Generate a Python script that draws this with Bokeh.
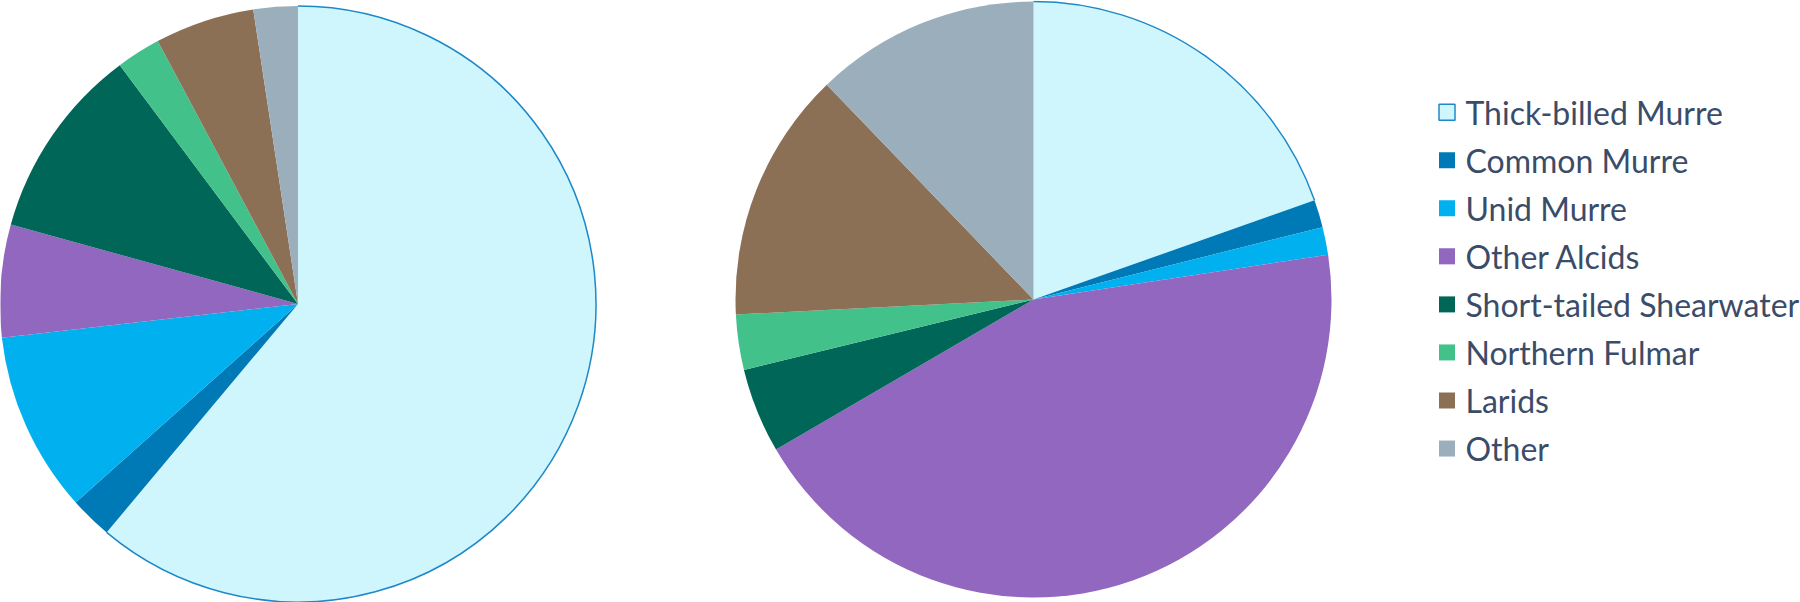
import numpy as np
from bokeh.plotting import figure
from bokeh.models import Range1d, ColumnDataSource
from bokeh.core.properties import value
from bokeh.embed import file_html
from bokeh.resources import INLINE

# ---- data ----
categories = ["Thick-billed Murre", "Common Murre", "Unid Murre", "Other Alcids",
              "Short-tailed Shearwater", "Northern Fulmar", "Larids", "Other"]
left_values = [61.1, 2.3, 9.8, 6.1, 10.5, 2.4, 5.4, 2.4]
right_values = [19.6, 1.5, 1.5, 44.0, 4.6, 3.0, 13.6, 12.2]
colors = ["#CFF6FD", "#0079B7", "#00B0EF", "#9167BF",
          "#006657", "#43C18B", "#8C7055", "#9BAEBC"]
outline_color = "#1E88C8"
text_color = "#3B4C68"

W, H = 1800, 602
p = figure(width=W, height=H, output_backend="svg", toolbar_location=None,
           x_range=Range1d(0, W), y_range=Range1d(0, H), min_border=0)
p.axis.visible = False
p.grid.visible = False
p.outline_line_color = None
p.background_fill_color = "white"
p.border_fill_color = "white"


def wedges(vals):
    v = np.array(vals, dtype=float)
    frac = v / v.sum()
    cum = np.concatenate([[0], np.cumsum(frac)])
    start = np.pi / 2 - 2 * np.pi * cum[:-1]
    end = np.pi / 2 - 2 * np.pi * cum[1:]
    return start, end


pies = [(left_values, 297.5, 298.5, 298.0), (right_values, 1033.0, 303.0, 298.0)]
for vals, cx, cy, r in pies:
    s, e = wedges(vals)
    src = ColumnDataSource(dict(start=s, end=e, color=colors, cat=categories))
    p.wedge(x=cx, y=cy, radius=r, start_angle="start", end_angle="end",
            direction="clock", fill_color="color", line_color=None, source=src)
    # thin outline on the arc of the first slice
    p.arc(x=cx, y=cy, radius=r, start_angle=s[0], end_angle=e[0],
          direction="clock", line_color=outline_color, line_width=1.5)

# ---- legend ----
n = len(categories)
ly0 = 490.3
step = 48.05
ly = [ly0 - i * step for i in range(n)]
lsrc = ColumnDataSource(dict(x=[1446.5] * n, y=ly, color=colors,
                             lc=[outline_color] + ["rgba(0,0,0,0)"] * (n - 1),
                             lw=[1.5] + [0] * (n - 1), text=categories, tx=[1465.0] * n))
p.rect(x="x", y="y", width=16, height=16, fill_color="color", line_color="lc",
       line_width="lw", source=lsrc)
p.text(x="tx", y="y", text="text", text_font=value("Lato"), text_font_size="32px",
       text_color=text_color, text_baseline="middle", text_align="left", source=lsrc)

open("out.html", "w").write(file_html(p, INLINE))
